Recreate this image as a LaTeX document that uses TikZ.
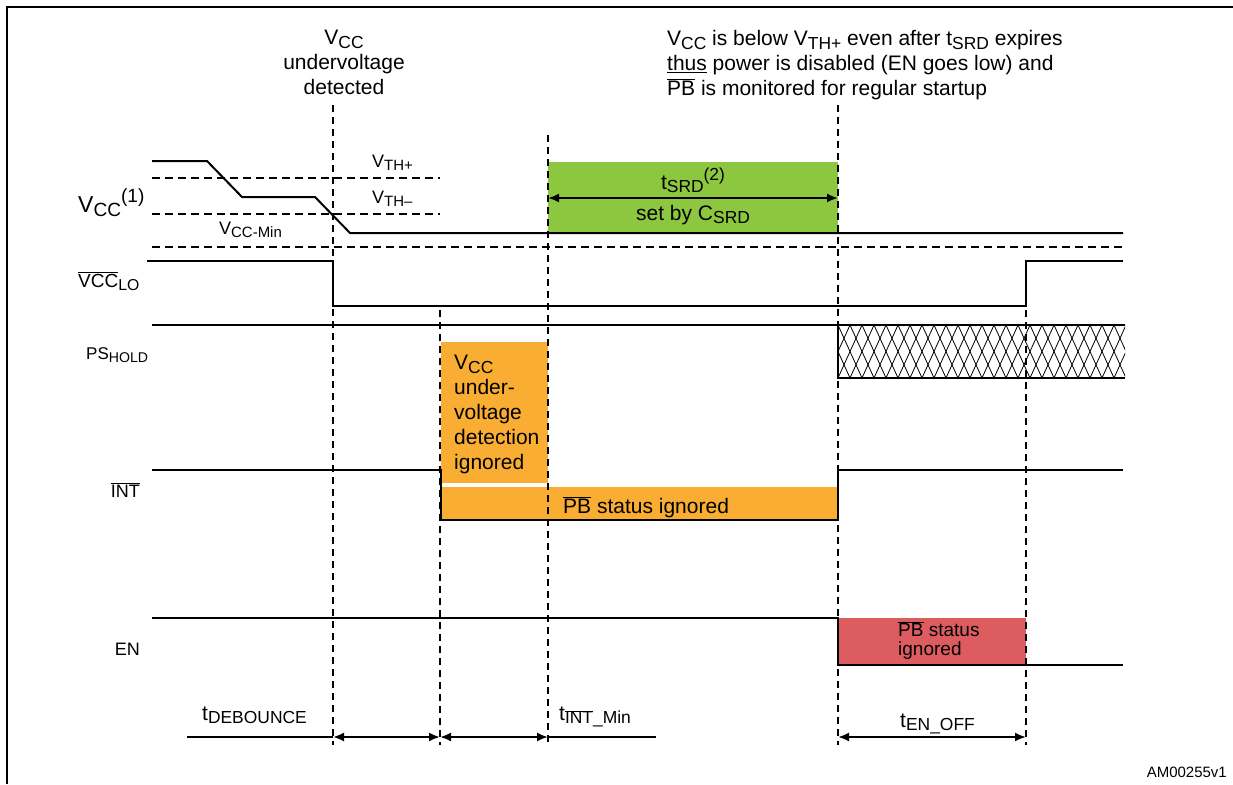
\documentclass[tikz,border=0pt]{standalone}
\usepackage{graphicx}
\usepackage{fontspec}
\setmainfont{Liberation Sans}
\usetikzlibrary{arrows.meta}
\definecolor{ignoreorange}{RGB}{249,174,51}
\definecolor{srdgreen}{RGB}{141,198,63}
\definecolor{offred}{RGB}{220,92,96}
\newcommand{\lo}[1]{\raisebox{-0.35ex}{\scalebox{0.83}{#1}}}
\newcommand{\hi}[1]{\raisebox{0.75ex}{\scalebox{0.83}{#1}}}
\newcommand{\ovl}[1]{$\overline{\mbox{#1}}$}
\tikzset{
  mainlabel/.style={font=\fontsize{21}{25}\selectfont, inner sep=0pt},
  siglabel/.style={font=\fontsize{18}{22}\selectfont, inner sep=0pt, anchor=base east},
  levellabel/.style={font=\fontsize{18}{22}\selectfont, inner sep=0pt, anchor=base west},
  signal/.style={line width=2pt},
  level/.style={line width=1.6pt, dash pattern=on 8pt off 5pt},
  marker/.style={line width=1.6pt, dash pattern=on 7pt off 5pt},
  hatch/.style={line width=0.8pt},
  timearrow/.style={line width=2pt, {Latex[length=11pt,width=9pt]}-{Latex[length=11pt,width=9pt]}},
  orangebox/.style={fill=ignoreorange},
  greenbox/.style={fill=srdgreen},
  redbox/.style={fill=offred},
}

\begin{document}
\begin{tikzpicture}[x=1pt,y=-1pt]
\useasboundingbox (0,0) rectangle (1233,784);
% frame
\draw[line width=2pt] (7,784) -- (7,7) -- (1233,7);

% shaded windows
\fill[orangebox] (441,342) rectangle (548,483);
\fill[orangebox] (441,487) rectangle (838,520);
\fill[greenbox] (548,162) rectangle (838,233);
\fill[redbox] (838,618) rectangle (1026,665);

% time markers
\draw[marker] (333,105) -- (333,745);
\draw[marker] (440,310) -- (440,745);
\draw[marker] (548,135) -- (548,745);
\draw[marker] (838,105) -- (838,745);
\draw[marker] (1026,310) -- (1026,745);

% thresholds
\draw[level] (152,178) -- (440,178);
\draw[level] (152,214) -- (440,214);
\draw[level] (152,247) -- (1123,247);

% signals
\draw[signal] (152,161) -- (207,161) -- (242,197) -- (315,197) -- (350,233) -- (1123,233);
\draw[signal] (147,261) -- (333,261) -- (333,306) -- (1026,306) -- (1026,261) -- (1123,261);
\draw[signal] (152,325) -- (1125,325);
\draw[signal] (838,325) -- (838,378) -- (1125,378);
\begin{scope}
  \clip (838,325) rectangle (1125,378);
  \foreach \hx in {802,814,...,1138} {
    \draw[hatch] (\hx,325) -- ++(24,53);
    \draw[hatch] (\hx,378) -- ++(24,-53);
  }
\end{scope}
\draw[signal] (152,470) -- (441,470) -- (441,520) -- (838,520) -- (838,470) -- (1123,470);
\draw[signal] (152,618) -- (838,618) -- (838,665) -- (1123,665);

% durations
\coordinate (dbStart) at (187,737);
\coordinate (dbA) at (333,737);
\coordinate (dbB) at (440,737);
\coordinate (dbC) at (548,737);
\coordinate (dbEnd) at (656,737);
\coordinate (offA) at (838,737);
\coordinate (offB) at (1026,737);
\coordinate (srdA) at (548,198);
\coordinate (srdB) at (838,198);
\draw[signal] (dbStart) -- (dbA);
\draw[timearrow] (dbA) -- (dbB);
\draw[timearrow] (dbB) -- (dbC);
\draw[signal] (dbC) -- (dbEnd);
\draw[timearrow] (offA) -- (offB);
\draw[timearrow] (srdA) -- (srdB);

% texts
\node[mainlabel, align=center, anchor=north] (uvNote) at (344,30)
  {V\lo{CC}\\undervoltage\\detected};
\node[mainlabel, align=left, anchor=north west] (srdNote) at (667,30)
  {V\lo{CC} is below V\lo{TH+} even after t\lo{SRD} expires\\
   \underline{thus} power is disabled (EN goes low) and\\
   \ovl{PB} is monitored for regular startup};

\node[siglabel, anchor=base west, font=\fontsize{23}{27}\selectfont] (vccLbl) at (78,212) {V\lo{CC}\hi{(1)}};
\node[siglabel, anchor=base west, font=\fontsize{19}{23}\selectfont] (vccloLbl) at (78,287) {\ovl{VCC}\lo{LO}};
\node[siglabel, anchor=base west, font=\fontsize{17}{21}\selectfont] (psholdLbl) at (86,359) {PS\lo{HOLD}};
\node[siglabel] (intLbl) at (140,497) {\ovl{INT}};
\node[siglabel] (enLbl) at (140,655) {EN};

\node[levellabel] (vthpLbl) at (372,167) {V\lo{TH+}};
\node[levellabel] (vthmLbl) at (372,203) {V\lo{TH--}};
\node[levellabel] (vminLbl) at (219,234) {V\lo{CC-Min}};

\node[mainlabel, anchor=base] (srdLbl) at (693,189) {t\lo{SRD}\hi{(2)}};
\node[mainlabel, anchor=base] (csrdLbl) at (693,220) {set by C\lo{SRD}};

\node[mainlabel, align=left, anchor=north west] (uvIgnLbl) at (454,355)
  {V\lo{CC}\\under-\\voltage\\detection\\ignored};
\node[mainlabel, anchor=base west] (pbIgnLbl) at (563,513) {\ovl{PB} status ignored};
\node[font=\fontsize{19}{19}\selectfont, inner sep=0pt, align=left, anchor=north west] (pbOffLbl) at (898,621)
  {\ovl{PB} status\\ignored};

\node[mainlabel, anchor=base west] (dbLbl) at (202,720) {t\lo{DEBOUNCE}};
\node[mainlabel, anchor=base west] (intMinLbl) at (559,720) {t\lo{\ovl{INT}\_Min}};
\node[mainlabel, anchor=base west] (enOffLbl) at (900,727) {t\lo{EN\_OFF}};

\node[font=\fontsize{15}{18}\selectfont, inner sep=0pt, anchor=base east] (docId) at (1227,777) {AM00255v1};
\end{tikzpicture}
\end{document}
